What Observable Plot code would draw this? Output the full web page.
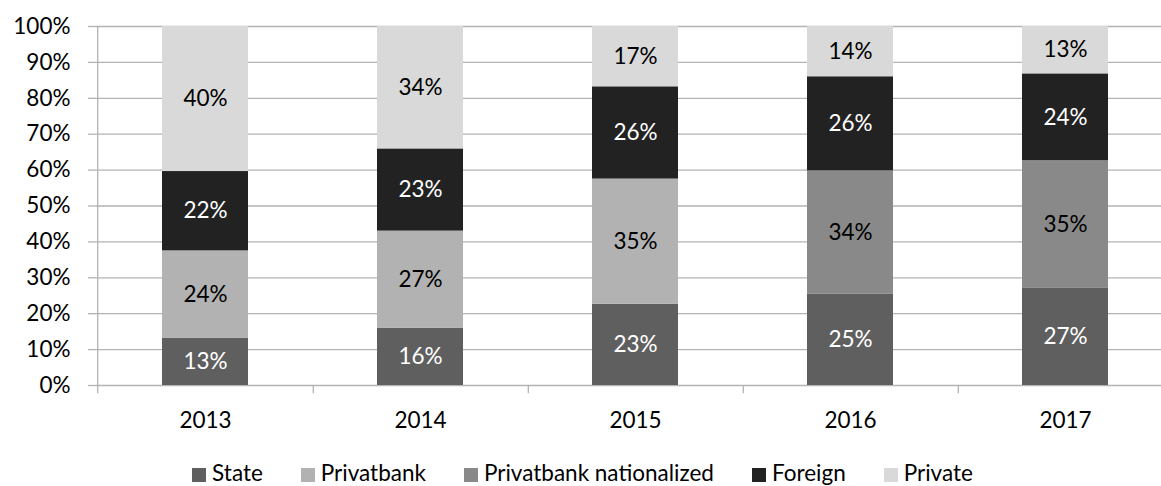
<!DOCTYPE html>
<html>
<head>
<meta charset="utf-8">
<script src="https://cdn.jsdelivr.net/npm/d3@7"></script>
<script src="https://cdn.jsdelivr.net/npm/@observablehq/plot@0.6"></script>
<style>
  html, body { margin: 0; padding: 0; background: #fff; }
  #chart { width: 1161px; height: 486px; overflow: hidden; font-family: Lato, "Open Sans", sans-serif; }
  .legend { display: flex; justify-content: center; gap: 38px; font-size: 22.5px; line-height: 26px; margin-top: 20px; padding-left: 4px; color: #000; }
  .legend span.item { display: flex; align-items: center; }
  .legend span.sw { display: inline-block; width: 14px; height: 14px; margin-right: 6px; margin-top: 4px; }
</style>
</head>
<body>
<div id="chart"></div>
<script>
const years = ["2013", "2014", "2015", "2016", "2017"];
const series = ["State", "Privatbank", "Privatbank nationalized", "Foreign", "Private"];
const stateVals = [13.2, 16.0, 22.6, 25.4, 27.2];
const privatbankVals = [24.3, 27.0, 34.9, 0, 0];
const nationalizedVals = [0, 0, 0, 34.4, 35.4];
const foreignVals = [22.1, 22.9, 25.7, 26.2, 24.2];
const privateVals = [40.4, 34.1, 16.8, 14.0, 13.2];
const seriesColors = ["#5f5f5f", "#b2b2b2", "#898989", "#222222", "#d9d9d9"];
const labelColors = ["#ffffff", "#000000", "#000000", "#ffffff", "#000000"];
const yTicks = [0, 10, 20, 30, 40, 50, 60, 70, 80, 90, 100];

const valuesBySeries = [stateVals, privatbankVals, nationalizedVals, foreignVals, privateVals];

// stack manually (bottom to top in series order)
const rows = [];
years.forEach((year, i) => {
  let base = 0;
  series.forEach((s, j) => {
    const v = valuesBySeries[j][i];
    if (v > 0) {
      rows.push({year, series: s, value: v, y1: base, y2: base + v, mid: base + v / 2, label: Math.round(v) + "%", labelColor: labelColors[j]});
    }
    base += v;
  });
});

const W = 1161, H = 440;
const left = 96, rangeEnd = 1174;
const step = (rangeEnd - left) / years.length;
const FS = 22.5;

const plot = Plot.plot({
  width: W,
  height: H,
  marginTop: 26,
  marginBottom: 55,
  marginLeft: left,
  marginRight: 0,
  style: {fontFamily: "Lato, 'Open Sans', sans-serif", fontSize: FS + "px", color: "#000", background: "#fff", overflow: "hidden"},
  x: {domain: years, range: [left, rangeEnd], paddingInner: 0.6, paddingOuter: 0.3, label: null},
  y: {domain: [0, 100], label: null},
  color: {domain: series, range: seriesColors},
  marks: [
    Plot.gridY(yTicks, {stroke: "#b3b3b3", strokeOpacity: 1, strokeWidth: 1.3}),
    Plot.axisY(yTicks, {tickSize: 8, tickPadding: 18, stroke: "#b3b3b3", strokeOpacity: 1, strokeWidth: 1.3, tickFormat: d => d + "%", fontSize: FS, label: null}),
    Plot.ruleX([years[0]], {x: d => d, dx: -step / 2, y1: -2.3, y2: 100, stroke: "#b3b3b3", strokeWidth: 1.3}),
    Plot.ruleX(years, {x: d => d, dx: step / 2, y1: 0, y2: -2.3, stroke: "#b3b3b3", strokeWidth: 1.3}),
    Plot.axisX({tickSize: 0, tickPadding: 27, fontSize: FS, label: null}),
    Plot.rectY(rows, {x: "year", y1: "y1", y2: "y2", fill: "series"}),
    Plot.text(rows.filter(d => d.labelColor === "#ffffff"), {x: "year", y: "mid", text: "label", fill: "#ffffff", fontSize: FS}),
    Plot.text(rows.filter(d => d.labelColor === "#000000"), {x: "year", y: "mid", text: "label", fill: "#000000", fontSize: FS})
  ]
});

const chart = document.getElementById("chart");
chart.appendChild(plot);

const legend = document.createElement("div");
legend.className = "legend";
series.forEach((s, j) => {
  const item = document.createElement("span");
  item.className = "item";
  const sw = document.createElement("span");
  sw.className = "sw";
  sw.style.background = seriesColors[j];
  item.appendChild(sw);
  item.appendChild(document.createTextNode(s));
  legend.appendChild(item);
});
chart.appendChild(legend);
</script>
</body>
</html>
